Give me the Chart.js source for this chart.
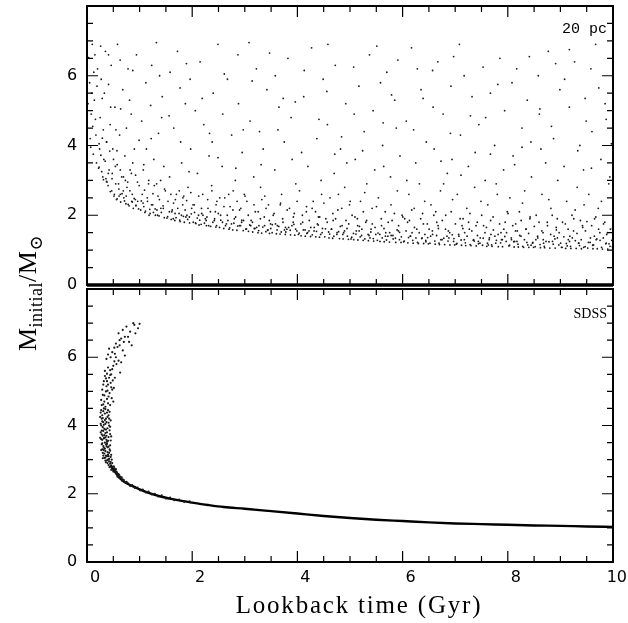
<!DOCTYPE html>
<html>
<head>
<meta charset="utf-8">
<script src="https://cdn.jsdelivr.net/npm/chart.js"></script>
<style>
body { margin: 0; background: #fff; width: 628px; height: 623px; position: relative; overflow: hidden; }
canvas { position: absolute; left: 0; }
#topChart { top: 0; }
#botChart { top: 285px; }
.title { position: absolute; font-family: "Liberation Serif", "DejaVu Serif", serif; color: #000; white-space: nowrap; }
#xtitle { left: 0; width: 718px; text-align: center; top: 591px; font-size: 25px; letter-spacing: 1.8px; }
#ytitle { left: -72px; top: 278px; width: 200px; height: 30px; line-height: 30px; text-align: center; font-size: 26px; letter-spacing: 0.5px; transform: rotate(-90deg); }
#ytitle sub { font-size: 18px; }
</style>
</head>
<body>
<canvas id="topChart" width="628" height="300"></canvas>
<canvas id="botChart" width="628" height="338"></canvas>
<div class="title" id="xtitle">Lookback time (Gyr)</div>
<div class="title" id="ytitle">M<sub>initial</sub>/M<sub>&#8857;</sub></div>
<script>
// axis ticks
var xTicks = [0, 2, 4, 6, 8, 10];
var yTicks = [0, 2, 4, 6];

// 20 pc sample: [lookback time (Gyr), initial mass (Msun)]
var sample20pc = [
  [0.03,6.52],[0.05,5.8],[0.08,4.9],[0.1,6.9],[0.12,3.75],[0.14,5.3],[0.17,4.3],[0.2,6.2],[0.22,3.35],[0.25,4.8],
  [0.27,5.9],[0.3,3.1],[0.32,3.6],[0.35,6.7],[0.37,4.1],[0.4,2.85],[0.42,3.3],[0.45,5.1],[0.47,2.7],[0.49,3.9],
  [0.06,4.2],[0.09,5.5],[0.15,6.6],[0.18,3.5],[0.24,3.9],[0.28,3.25],[0.33,5.5],[0.38,2.95],[0.44,4.6],[0.46,6.3],
  [0.02,5.2],[0.11,4.55],[0.19,5.7],[0.26,6.85],[0.31,4.45],[0.36,3.05],[0.41,5.75],[0.48,3.2],[0.13,6.1],[0.23,4.05],
  [0.52,2.6],[0.54,3.4],[0.56,2.45],[0.58,6.9],[0.6,2.9],[0.62,4.3],[0.64,2.38],[0.66,3.1],[0.68,5.6],[0.7,2.5],
  [0.72,3.7],[0.74,2.33],[0.76,2.8],[0.78,6.2],[0.8,2.27],[0.82,3.3],[0.84,4.9],[0.86,2.6],[0.88,2.2],[0.9,3.9],
  [0.92,2.45],[0.94,6.6],[0.96,2.95],[0.98,2.18],[0.53,5.1],[0.57,3.85],[0.63,6.45],[0.69,2.7],[0.75,4.5],[0.81,5.3],
  [0.87,3.5],[0.93,2.28],[0.99,4.15],[0.61,2.55],[0.73,3.0],[0.85,2.4],
  [1.02,2.15],[1.05,2.6],[1.07,3.3],[1.1,2.08],[1.12,5.8],[1.15,2.4],[1.17,2.9],[1.2,2.05],[1.22,4.2],[1.25,2.3],
  [1.27,3.6],[1.3,2.0],[1.32,6.95],[1.35,2.55],[1.37,1.98],[1.4,3.0],[1.42,4.8],[1.45,2.2],[1.47,1.93],[1.49,2.7],
  [1.04,4.7],[1.13,3.9],[1.23,6.3],[1.33,2.15],[1.43,5.4],[1.08,2.25],[1.18,2.0],[1.28,2.85],[1.38,6.0],[1.46,3.4],
  [1.52,1.92],[1.54,2.4],[1.57,3.1],[1.6,1.88],[1.62,2.15],[1.65,4.5],[1.67,1.85],[1.7,2.6],[1.72,6.7],[1.75,2.05],
  [1.77,1.82],[1.8,3.5],[1.82,2.3],[1.85,1.8],[1.87,5.2],[1.9,2.0],[1.92,2.8],[1.95,1.78],[1.97,3.9],[1.99,2.2],
  [1.58,6.1],[1.68,2.45],[1.78,4.1],[1.88,1.95],[1.96,5.9],[1.64,1.9],[1.84,2.55],
  [2.02,1.8],[2.04,2.3],[2.07,1.76],[2.1,3.2],[2.12,2.0],[2.15,6.4],[2.17,1.74],[2.2,2.6],[2.22,4.6],[2.25,1.9],
  [2.27,1.7],[2.3,2.2],[2.32,3.7],[2.35,1.68],[2.37,2.85],[2.4,5.5],[2.42,1.85],[2.45,1.66],[2.47,2.4],[2.49,6.9],
  [2.06,5.0],[2.18,2.05],[2.28,1.95],[2.38,4.1],[2.44,2.1],[2.13,1.72],
  [2.52,1.65],[2.54,2.0],[2.57,3.4],[2.6,1.62],[2.62,2.5],[2.65,1.75],[2.67,5.9],[2.7,1.6],[2.72,2.25],[2.75,4.3],
  [2.77,1.58],[2.8,1.9],[2.82,3.0],[2.85,1.57],[2.87,6.6],[2.9,2.15],[2.92,1.7],[2.95,3.8],[2.97,1.56],[2.99,2.6],
  [2.58,4.9],[2.68,1.85],[2.78,2.7],[2.88,5.2],[2.94,1.8],
  [3.02,1.6],[3.04,2.4],[3.07,1.54],[3.1,4.7],[3.12,1.85],[3.15,1.52],[3.17,3.1],[3.2,2.1],[3.22,6.2],[3.25,1.5],
  [3.27,1.7],[3.3,2.8],[3.32,1.49],[3.35,3.9],[3.37,1.95],[3.4,1.53],[3.42,5.6],[3.45,2.3],[3.47,1.48],[3.49,1.75],
  [3.08,6.95],[3.18,1.62],[3.28,4.4],[3.38,2.55],[3.44,1.58],
  [3.52,1.5],[3.54,2.0],[3.57,3.3],[3.6,1.47],[3.62,1.7],[3.65,5.1],[3.67,1.46],[3.7,2.6],[3.72,1.9],[3.75,4.1],
  [3.77,1.45],[3.8,1.6],[3.82,6.5],[3.85,2.2],[3.87,1.44],[3.9,3.6],[3.92,1.8],[3.95,1.43],[3.97,2.9],[3.99,1.55],
  [3.58,6.0],[3.68,2.35],[3.78,1.52],[3.88,4.8],[3.94,2.05],
  [4.02,1.45],[4.04,2.7],[4.07,1.41],[4.1,1.8],[4.12,5.4],[4.15,1.4],[4.17,2.1],[4.2,3.4],[4.22,1.55],[4.25,1.39],
  [4.27,6.8],[4.3,2.4],[4.32,1.65],[4.35,1.38],[4.37,4.2],[4.4,1.95],[4.42,1.37],[4.45,3.0],[4.47,1.5],[4.49,5.9],
  [4.08,3.8],[4.18,1.48],[4.28,2.2],[4.38,1.75],[4.46,2.6],
  [4.52,1.38],[4.54,1.9],[4.57,4.6],[4.6,1.35],[4.62,2.5],[4.65,1.6],[4.67,1.34],[4.7,3.2],[4.72,6.3],[4.75,1.45],
  [4.77,2.15],[4.8,1.33],[4.82,3.9],[4.85,1.7],[4.87,1.32],[4.9,2.8],[4.92,5.2],[4.95,1.4],[4.97,1.31],[4.99,2.3],
  [4.58,6.9],[4.68,1.85],[4.78,2.6],[4.88,1.5],[4.94,3.5],
  [5.02,1.32],[5.04,2.0],[5.07,1.3],[5.1,3.6],[5.12,1.55],[5.15,1.29],[5.17,5.7],[5.2,2.4],[5.22,1.42],[5.25,1.28],
  [5.27,4.4],[5.3,1.8],[5.32,2.9],[5.35,1.27],[5.37,6.6],[5.4,1.6],[5.42,2.2],[5.45,1.26],[5.47,3.3],[5.49,1.45],
  [5.08,4.9],[5.18,1.68],[5.28,2.65],[5.38,1.35],[5.44,5.0],[5.14,1.9],
  [5.52,1.28],[5.54,2.5],[5.57,1.25],[5.6,1.7],[5.62,4.0],[5.65,1.24],[5.67,2.1],[5.7,6.1],[5.72,1.4],[5.75,1.23],
  [5.77,3.1],[5.8,1.85],[5.82,1.32],[5.85,5.3],[5.87,1.22],[5.9,2.7],[5.92,1.55],[5.95,3.7],[5.97,1.22],[5.99,2.0],
  [5.58,5.8],[5.68,1.5],[5.78,2.3],[5.88,4.5],[5.94,1.3],[5.64,3.4],
  [6.02,1.24],[6.04,1.9],[6.07,4.7],[6.1,1.21],[6.12,2.6],[6.15,1.4],[6.17,6.8],[6.2,1.2],[6.22,2.2],[6.25,3.5],
  [6.27,1.6],[6.3,1.19],[6.32,2.9],[6.35,5.6],[6.37,1.35],[6.4,1.19],[6.42,2.4],[6.45,4.1],[6.47,1.75],[6.49,1.18],
  [6.08,3.0],[6.18,1.5],[6.28,6.2],[6.38,2.05],[6.44,1.28],[6.13,1.85],
  [6.52,1.2],[6.54,2.3],[6.57,1.45],[6.6,3.9],[6.62,1.17],[6.65,1.8],[6.67,6.4],[6.7,1.16],[6.72,2.7],[6.75,1.3],
  [6.77,4.9],[6.8,1.16],[6.82,2.0],[6.85,3.2],[6.87,1.55],[6.9,1.15],[6.92,5.7],[6.95,2.45],[6.97,1.25],[6.99,1.15],
  [6.58,5.1],[6.68,1.62],[6.78,2.9],[6.88,1.35],[6.94,3.6],[6.63,2.1],
  [7.02,1.17],[7.04,2.6],[7.07,1.4],[7.1,4.3],[7.12,1.14],[7.15,1.9],[7.17,6.0],[7.2,1.13],[7.22,2.2],[7.25,3.4],
  [7.27,1.6],[7.3,1.13],[7.32,5.4],[7.35,1.3],[7.37,2.8],[7.4,1.12],[7.42,1.8],[7.45,4.6],[7.47,1.2],[7.49,2.4],
  [7.08,6.9],[7.18,1.5],[7.28,2.05],[7.38,3.8],[7.44,1.25],[7.13,1.7],
  [7.52,1.14],[7.54,1.7],[7.57,3.0],[7.6,1.11],[7.62,2.3],[7.65,1.35],[7.67,5.5],[7.7,1.11],[7.72,1.95],[7.75,4.0],
  [7.77,1.2],[7.8,2.6],[7.82,1.1],[7.85,6.5],[7.87,1.5],[7.9,1.1],[7.92,3.3],[7.95,1.8],[7.97,1.25],[7.99,2.1],
  [7.58,4.8],[7.68,1.45],[7.78,2.9],[7.88,1.3],[7.94,5.0],[7.63,1.15],
  [8.02,1.12],[8.04,2.5],[8.07,1.3],[8.1,3.7],[8.12,1.09],[8.15,1.75],[8.17,6.2],[8.2,1.09],[8.22,2.1],[8.25,1.4],
  [8.27,4.5],[8.3,1.08],[8.32,2.7],[8.35,1.6],[8.37,5.3],[8.4,1.08],[8.42,1.9],[8.45,3.1],[8.47,1.2],[8.49,1.08],
  [8.08,5.8],[8.18,1.55],[8.28,2.35],[8.38,1.15],[8.44,4.1],[8.13,1.25],
  [8.52,1.1],[8.54,2.0],[8.57,1.35],[8.6,4.9],[8.62,1.07],[8.65,2.6],[8.67,1.5],[8.7,1.07],[8.72,3.5],[8.75,1.8],
  [8.77,6.7],[8.8,1.06],[8.82,2.2],[8.85,1.25],[8.87,4.2],[8.9,1.06],[8.92,1.65],[8.95,3.0],[8.97,1.15],[8.99,5.6],
  [8.58,6.0],[8.68,1.2],[8.78,2.45],[8.88,1.4],[8.94,1.9],[8.63,3.9],
  [9.02,1.08],[9.04,1.8],[9.07,3.4],[9.1,1.05],[9.12,2.4],[9.15,1.3],[9.17,5.1],[9.2,1.05],[9.22,2.0],[9.25,1.55],
  [9.27,6.4],[9.3,1.05],[9.32,2.8],[9.35,1.2],[9.37,4.0],[9.4,1.04],[9.42,1.7],[9.45,2.3],[9.47,1.1],[9.49,4.7],
  [9.08,5.9],[9.18,1.4],[9.28,2.15],[9.38,1.85],[9.44,3.3],[9.13,1.12],
  [9.52,1.06],[9.54,2.6],[9.57,1.35],[9.6,4.4],[9.62,1.04],[9.65,1.9],[9.67,6.9],[9.7,1.04],[9.72,2.2],[9.75,1.5],
  [9.77,3.6],[9.8,1.03],[9.82,1.75],[9.85,5.2],[9.87,1.2],[9.9,1.03],[9.92,2.9],[9.95,1.6],[9.97,4.05],[9.99,1.1],
  [9.58,6.2],[9.68,1.3],[9.78,2.4],[9.88,1.45],[9.94,3.1],[9.63,1.15]
];

// 20 pc sample, extra stars in the dense band just above the lower edge
var sample20pcBand = [
  [0.231,3.38],[0.264,3.72],[0.292,4.21],[0.372,2.97],[0.405,3.2],[0.433,3.84],[0.513,2.55],[0.546,2.9],[0.574,3.45],
  [0.633,2.6],[0.666,2.62],[0.694,3.1],[0.713,2.41],[0.746,2.55],[0.774,2.95],[0.783,2.31],[0.816,2.7],[0.844,3.2],
  [0.863,2.38],[0.896,2.48],[0.924,3.15],[0.931,2.28],[0.964,2.4],[0.992,2.85],[1.033,2.41],[1.066,2.35],[1.094,2.72],
  [1.113,2.12],[1.146,2.5],[1.174,3.0],[1.193,2.17],[1.226,2.3],[1.254,2.62],[1.263,2.08],[1.296,2.18],[1.324,2.9],
  [1.343,2.0],[1.376,2.45],[1.404,2.2],[1.413,2.08],[1.446,2.27],[1.474,2.75],[1.533,1.96],[1.566,2.1],[1.594,2.6],
  [1.613,2.1],[1.646,2.35],[1.674,2.05],[1.693,1.93],[1.726,2.2],[1.754,2.7],[1.763,1.86],[1.796,2.0],[1.824,2.5],
  [1.833,1.97],[1.866,2.15],[1.894,2.42],[1.913,1.88],[1.946,1.95],[1.974,2.65],[1.983,2.04],[2.016,2.3],[2.044,2.08],
  [2.063,1.78],[2.096,1.92],[2.124,2.55],[2.143,1.86],[2.176,2.2],[2.204,2.0],[2.233,1.77],[2.266,1.85],[2.294,2.45],
  [2.313,1.7],[2.346,2.1],[2.374,2.7],[2.393,1.8],[2.426,1.9],[2.454,2.3],[2.463,1.7],[2.496,2.05],[2.524,2.5],
  [2.543,1.86],[2.576,1.8],[2.604,2.25],[2.633,1.7],[2.666,2.0],[2.694,2.6],[2.713,1.64],[2.746,1.75],[2.774,2.15],
  [2.793,1.77],[2.826,1.95],[2.854,2.4],[2.863,1.69],[2.896,1.7],[2.924,2.2],[2.943,1.86],[2.976,1.85],[3.004,2.55],
  [3.033,1.61],[3.066,2.0],[3.094,1.72],[3.113,1.7],[3.146,1.8],[3.174,2.3],[3.193,1.62],[3.226,1.65],[3.254,2.1],
  [3.263,1.56],[3.296,1.9],[3.324,2.45],[3.343,1.66],[3.376,1.7],[3.404,2.2],[3.433,1.57],[3.466,1.85],[3.494,1.62],
  [3.523,1.73],[3.556,2.05],[3.584,1.75],[3.613,1.58],[3.646,1.68],[3.674,2.3],[3.693,1.52],[3.726,1.8],[3.754,1.58],
  [3.773,1.65],[3.806,2.15],[3.834,1.65],[3.863,1.57],[3.896,1.7],[3.924,1.95],[3.933,1.74],[3.966,1.6],[3.994,2.4],
  [4.033,1.49],[4.066,1.75],[4.094,2.0],[4.113,1.58],[4.146,1.58],[4.174,2.25],[4.193,1.5],[4.226,1.85],[4.254,1.65],
  [4.283,1.44],[4.316,1.55],[4.344,2.1],[4.363,1.54],[4.396,1.72],[4.424,1.95],[4.443,1.45],[4.476,1.62],[4.504,2.35],
  [4.533,1.61],[4.566,1.8],[4.594,1.52],[4.613,1.46],[4.646,1.6],[4.674,2.05],[4.693,1.4],[4.726,1.9],[4.754,1.5],
  [4.783,1.53],[4.816,1.68],[4.844,2.2],[4.863,1.45],[4.896,1.55],[4.924,1.85],[4.943,1.62],[4.976,1.75],[5.004,2.4],
  [5.033,1.37],[5.066,1.48],[5.094,1.95],[5.113,1.46],[5.146,1.7],[5.174,1.55],[5.193,1.38],[5.226,1.6],[5.254,2.1],
  [5.283,1.32],[5.316,1.85],[5.344,1.45],[5.363,1.42],[5.396,1.52],[5.424,1.75],[5.443,1.33],[5.476,1.65],[5.504,2.25],
  [5.533,1.49],[5.566,1.45],[5.594,1.9],[5.613,1.35],[5.646,1.62],[5.674,1.4],[5.693,1.29],[5.726,1.8],[5.754,1.5],
  [5.783,1.42],[5.816,1.42],[5.844,2.05],[5.863,1.34],[5.896,1.58],[5.924,1.7],[5.943,1.51],[5.976,1.38],[6.004,1.95],
  [6.033,1.26],[6.066,1.55],[6.094,1.8],[6.113,1.36],[6.146,1.4],[6.174,2.15],[6.193,1.28],[6.226,1.65],[6.254,1.35],
  [6.283,1.22],[6.316,1.5],[6.344,1.9],[6.363,1.33],[6.396,1.75],[6.424,1.45],[6.443,1.24],[6.476,1.36],[6.504,1.6],
  [6.533,1.4],[6.566,1.55],[6.594,2.0],[6.613,1.26],[6.646,1.42],[6.674,1.7],[6.693,1.2],[6.726,1.3],[6.754,1.85],
  [6.783,1.34],[6.816,1.6],[6.844,1.4],[6.863,1.26],[6.896,1.5],[6.924,2.1],[6.943,1.44],[6.976,1.33],[7.004,1.75],
  [7.033,1.19],[7.066,1.45],[7.094,1.9],[7.113,1.29],[7.146,1.62],[7.174,1.3],[7.193,1.21],[7.226,1.4],[7.254,1.8],
  [7.283,1.16],[7.316,1.55],[7.344,1.28],[7.363,1.26],[7.396,1.7],[7.424,1.42],[7.443,1.18],[7.476,1.35],[7.504,2.0],
  [7.533,1.34],[7.566,1.5],[7.594,1.65],[7.613,1.2],[7.646,1.3],[7.674,1.85],[7.693,1.15],[7.726,1.58],[7.754,1.4],
  [7.783,1.28],[7.816,1.45],[7.844,1.75],[7.863,1.21],[7.896,1.3],[7.924,1.6],[7.943,1.39],[7.976,1.5],[8.004,2.05],
  [8.033,1.14],[8.066,1.35],[8.094,1.7],[8.113,1.24],[8.146,1.55],[8.174,1.25],[8.193,1.17],[8.226,1.42],[8.254,1.85],
  [8.283,1.11],[8.316,1.3],[8.344,1.6],[8.363,1.22],[8.396,1.48],[8.424,1.95],[8.443,1.14],[8.476,1.22],[8.504,1.68],
  [8.533,1.3],[8.566,1.4],[8.594,1.8],[8.613,1.16],[8.646,1.55],[8.674,1.3],[8.693,1.11],[8.726,1.25],[8.754,1.7],
  [8.783,1.24],[8.816,1.45],[8.844,2.0],[8.863,1.17],[8.896,1.32],[8.924,1.58],[8.943,1.35],[8.976,1.5],[9.004,1.2],
  [9.033,1.08],[9.066,1.38],[9.094,1.75],[9.113,1.19],[9.146,1.6],[9.174,1.25],[9.193,1.11],[9.226,1.35],[9.254,1.9],
  [9.283,1.27],[9.316,1.48],[9.344,1.2],[9.363,1.13],[9.396,1.3],[9.424,1.65],[9.443,1.08],[9.476,1.55],[9.504,1.82],
  [9.533,1.22],[9.566,1.22],[9.594,1.7],[9.613,1.14],[9.646,1.4],[9.674,1.95],[9.693,1.32],[9.726,1.6],[9.754,1.28],
  [9.783,1.08],[9.816,1.35],[9.844,1.8],[9.863,1.18],[9.896,1.5],[9.924,1.18],[9.943,1.11],[9.976,1.28],[9.991,1.62],
  [0.313,3.02],[0.346,3.55],[0.374,4.1],[0.443,2.68],[0.476,3.05],[0.504,3.6],[0.573,2.47],[0.606,2.75],[0.634,3.3]
];

// 20 pc sample, extra stars in the sparse upper region
var sample20pcUpper = [
  [1.56,4.85],[2.61,6.05],[3.73,5.35],[4.84,4.25],[5.91,6.45],[6.73,3.55],[7.81,5.75],[8.83,4.55],[9.73,5.65],[1.21,5.15],
  [2.33,4.35],[3.47,6.65],[4.56,5.55],[5.63,4.65],[6.39,5.35],[7.53,6.25],[8.61,5.05],[9.33,3.85],[0.64,5.05],[1.89,6.35],
  [2.97,4.45],[4.13,6.15],[5.24,3.85],[6.91,4.35],[8.13,3.45],[9.17,6.75],[0.87,6.15],[2.19,5.35],[3.31,3.45],[4.41,4.75],
  [5.51,6.85],[6.57,6.15],[7.67,3.75],[8.91,6.35],[9.59,3.35],[1.77,5.65],[2.83,3.35],[3.96,5.25],[5.07,6.25],[6.21,4.45],
  [7.29,4.85],[8.41,6.55],[9.87,4.75],[0.41,6.6],[1.36,4.35],[2.49,3.65],[3.63,4.45],[4.71,3.75],[5.79,5.45],[6.97,6.55],
  [7.11,3.15],[8.27,3.95],[9.47,5.35],[0.29,5.35],[0.16,4.75],[0.07,3.95],[0.55,4.45],[1.08,3.45],[1.94,3.25],[3.14,5.85]
];

// SDSS sample, young/massive hook: [lookback time (Gyr), initial mass (Msun)]
var sdssHook = [
  [0.42,2.95],[0.45,2.8],[0.5,2.65],[0.55,2.6],[0.6,2.52],[0.48,2.9],[0.52,2.75],[0.58,2.55],[0.65,2.45],[0.7,2.4],
  [0.4,3.0],[0.46,2.7],[0.62,2.5],[0.68,2.42],[0.75,2.35],[0.38,2.98],[0.54,2.68],[0.44,2.88],[0.57,2.62],[0.66,2.48],
  [0.36,2.92],[0.41,2.84],[0.47,2.76],[0.53,2.66],[0.59,2.58],[0.39,2.9],[0.43,2.78],[0.49,2.7],[0.56,2.64],[0.61,2.56],
  [0.35,2.97],[0.51,2.8],[0.63,2.5],[0.45,2.93],[0.55,2.72],
  [0.33,3.05],[0.38,3.1],[0.42,3.02],[0.3,3.2],[0.35,3.25],[0.4,3.15],[0.45,3.08],[0.32,3.35],[0.37,3.4],[0.28,3.45],
  [0.43,3.3],[0.34,3.5],[0.39,3.22],[0.31,3.12],[0.47,3.0],[0.29,3.3],[0.36,3.45],[0.41,3.38],
  [0.27,3.28],[0.3,3.04],[0.33,3.18],[0.36,3.12],[0.39,3.36],[0.42,3.2],[0.44,3.42],[0.46,3.14],[0.29,3.48],[0.32,3.28],
  [0.35,3.06],[0.38,3.46],[0.41,3.1],[0.34,3.32],[0.31,3.4],[0.44,3.26],
  [0.27,3.6],[0.3,3.7],[0.35,3.65],[0.4,3.55],[0.44,3.75],[0.28,3.85],[0.33,3.9],[0.38,3.8],[0.42,4.0],[0.26,4.05],
  [0.31,4.1],[0.36,4.2],[0.45,4.15],[0.29,4.3],[0.34,4.35],[0.39,4.25],[0.27,4.45],[0.32,4.5],[0.43,4.4],[0.37,3.58],
  [0.3,3.95],[0.41,4.3],[0.35,4.05],[0.46,3.68],[0.33,3.72],[0.28,4.2],[0.4,4.45],[0.36,3.88],
  [0.25,3.64],[0.29,3.58],[0.32,3.62],[0.37,3.7],[0.41,3.66],[0.45,3.56],[0.26,3.8],[0.31,3.84],[0.35,3.78],[0.39,3.92],
  [0.43,3.86],[0.27,4.0],[0.32,4.02],[0.37,4.1],[0.41,4.08],[0.44,3.96],[0.25,4.25],[0.3,4.22],[0.34,4.16],[0.38,4.38],
  [0.42,4.2],[0.26,4.38],[0.31,4.42],[0.35,4.48],[0.29,4.12],[0.33,3.64],[0.38,3.52],[0.28,3.74],
  [0.28,4.6],[0.33,4.7],[0.4,4.65],[0.47,4.8],[0.3,4.9],[0.36,5.0],[0.43,4.95],[0.51,5.1],[0.31,5.2],[0.38,5.3],
  [0.45,5.25],[0.53,5.4],[0.34,5.45],[0.41,4.85],[0.48,5.05],[0.35,4.55],[0.29,5.05],[0.42,5.4],[0.5,4.7],[0.37,5.15],
  [0.27,4.75],[0.31,4.62],[0.38,4.78],[0.44,4.6],[0.33,4.88],[0.39,5.02],[0.46,5.12],[0.32,5.3],[0.4,5.2],[0.49,5.32],
  [0.36,5.38],[0.44,5.48],
  [0.34,5.6],[0.4,5.7],[0.48,5.65],[0.56,5.8],[0.63,5.55],[0.37,5.95],[0.45,6.0],[0.53,6.1],[0.6,5.9],[0.68,6.2],
  [0.42,6.25],[0.5,5.75],[0.58,6.3],[0.72,6.05],[0.46,5.5],[0.65,5.85],
  [0.38,5.52],[0.44,5.62],[0.52,5.88],[0.4,6.08],[0.48,6.15],[0.55,6.0],[0.62,6.35],[0.52,6.28],
  [0.55,6.4],[0.62,6.5],[0.7,6.45],[0.78,6.6],[0.85,6.35],[0.6,6.7],[0.68,6.8],[0.75,6.9],[0.82,6.75],[0.9,6.95],
  [0.97,6.85],[0.88,7.0],[0.72,6.6],[0.8,6.45],[0.92,6.7],[0.65,6.55],[1.0,6.98],
  [0.58,2.5],[0.62,2.46],[0.67,2.38],[0.72,2.34],[0.77,2.32],[0.82,2.23],[0.86,2.25],[0.91,2.17],[0.96,2.18],[1.01,2.1],
  [1.06,2.12],[1.12,2.04],[1.17,2.06],[1.23,1.98],[1.29,2.0],[1.35,1.92],[1.42,1.95],[1.5,1.86],[1.58,1.89],[1.66,1.81],
  [1.75,1.83],[1.85,1.76],[1.95,1.78]
];

// SDSS sample, tight sequence of older stars
var sdssRidgeTime = [0.45, 0.5, 0.6, 0.7, 0.8, 0.9, 1.0, 1.2, 1.4, 1.6, 1.8, 2.0, 2.3, 2.6, 3.0, 3.5, 4.0, 4.5, 5.0, 5.5, 6.0, 6.5, 7.0, 7.5, 8.0, 8.5, 9.0, 9.5, 10];
var sdssRidgeMass = [2.85, 2.72, 2.5, 2.36, 2.27, 2.2, 2.13, 2.01, 1.92, 1.85, 1.79, 1.74, 1.67, 1.61, 1.56, 1.49, 1.42, 1.35, 1.29, 1.24, 1.2, 1.16, 1.13, 1.11, 1.09, 1.07, 1.06, 1.04, 1.03];

var toXY = function (p) { return { x: p[0], y: p[1] }; };

var framePlugin = {
  id: 'frame',
  afterDraw: function (chart, args, o) {
    var ctx = chart.ctx, a = chart.chartArea;
    var xs = chart.scales.x, ys = chart.scales.y;
    ctx.save();
    ctx.strokeStyle = '#000';
    ctx.fillStyle = '#000';
    ctx.lineWidth = 1.2;
    ctx.beginPath();
    // minor ticks every 0.5, major every 2
    for (var v = 0; v <= 10; v += 0.5) {
      var px = xs.getPixelForValue(v);
      var len = v % 2 === 0 ? 11 : 6;
      ctx.moveTo(px, a.bottom); ctx.lineTo(px, a.bottom - len);
      ctx.moveTo(px, a.top); ctx.lineTo(px, a.top + len);
    }
    for (var w = 0; w <= 8; w += 0.5) {
      var py = ys.getPixelForValue(w);
      var l2 = w % 2 === 0 ? 11 : 6;
      ctx.moveTo(a.left, py); ctx.lineTo(a.left + l2, py);
      ctx.moveTo(a.right, py); ctx.lineTo(a.right - l2, py);
    }
    ctx.stroke();
    ctx.lineWidth = 2;
    ctx.strokeRect(a.left, a.top, a.right - a.left, a.bottom - a.top);
    if (o.thickBottom) {
      ctx.lineWidth = 3.5;
      ctx.beginPath();
      ctx.moveTo(a.left, a.bottom); ctx.lineTo(a.right, a.bottom);
      ctx.stroke();
    }
    ctx.font = '16px "DejaVu Sans", sans-serif';
    ctx.textAlign = 'center';
    ctx.textBaseline = 'middle';
    yTicks.forEach(function (t) { ctx.fillText(String(t), a.left - 15, ys.getPixelForValue(t)); });
    if (o.xLabels) {
      xTicks.forEach(function (t) {
        var s = String(t), half = ctx.measureText(s).width / 2;
        var cx = Math.min(xs.getPixelForValue(t) + 8, chart.width - half - 1);
        ctx.fillText(s, cx, a.bottom + 16);
      });
    }
    ctx.font = o.labelFont;
    ctx.textAlign = 'right';
    ctx.textBaseline = 'alphabetic';
    ctx.fillText(o.label, a.right - 6, a.top + o.labelDy);
    ctx.restore();
  }
};

function panelOptions(pad, frame) {
  return {
    responsive: false,
    animation: false,
    layout: { padding: pad },
    plugins: { legend: { display: false }, tooltip: { enabled: false }, frame: frame },
    scales: {
      x: { type: 'linear', min: 0, max: 10, display: false },
      y: { type: 'linear', min: 0, max: 8, display: false }
    }
  };
}

var dotStyle = { pointRadius: 0.9, pointBorderWidth: 0, pointBackgroundColor: '#1a1a1a' };

new Chart(document.getElementById('topChart'), {
  type: 'scatter',
  data: {
    datasets: [
      Object.assign({ label: '20 pc', data: sample20pc.map(toXY) }, dotStyle),
      Object.assign({ label: '20 pc band', data: sample20pcBand.map(toXY) }, dotStyle),
      Object.assign({ label: '20 pc upper', data: sample20pcUpper.map(toXY) }, dotStyle)
    ]
  },
  options: panelOptions({ left: 87, right: 15, top: 6, bottom: 15 },
    { label: '20 pc', labelDy: 27, labelFont: '15px "Liberation Mono", monospace', thickBottom: true, xLabels: false }),
  plugins: [framePlugin]
});

new Chart(document.getElementById('botChart'), {
  type: 'scatter',
  data: {
    datasets: [
      Object.assign({ label: 'SDSS', data: sdssHook.map(toXY) }, dotStyle, { pointRadius: 1.1 }),
      {
        label: 'SDSS sequence',
        data: sdssRidgeTime.map(function (t, i) { return { x: t, y: sdssRidgeMass[i] }; }),
        showLine: true,
        cubicInterpolationMode: 'monotone',
        borderColor: '#000',
        borderWidth: 2.4,
        pointRadius: 0
      }
    ]
  },
  options: panelOptions({ left: 87, right: 15, top: 0, bottom: 61 },
    { label: 'SDSS', labelDy: 29, labelFont: '14px "Liberation Serif", serif', thickBottom: false, xLabels: true }),
  plugins: [framePlugin]
});
</script>
</body>
</html>
